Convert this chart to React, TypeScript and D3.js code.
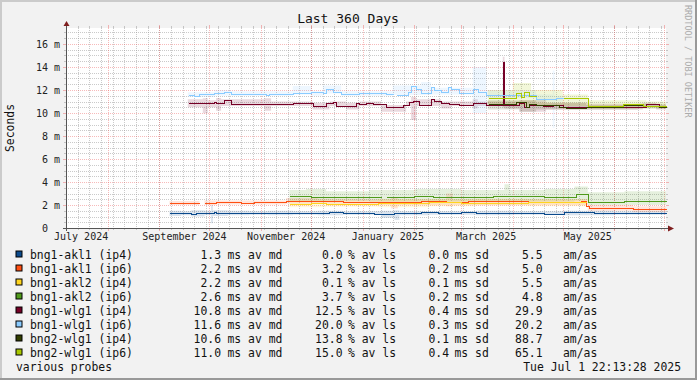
import React from "react";
import * as d3 from "d3";

// ---------- layout constants ----------
const W = 697;
const H = 380;
const X0 = 66;
const X1 = 666;
const YT = 28;
const YB = 228;
const Y_MAX = 200 / 11.5;
const START = new Date(2024, 6, 6, 22, 13, 28);
const END = new Date(2025, 6, 1, 22, 13, 28);
const FONT = "'DejaVu Sans Mono', monospace";

// ---------- legend data ----------
const seriesNames = [
  "bng1-akl1 (ip4)",
  "bng1-akl1 (ip6)",
  "bng1-akl2 (ip4)",
  "bng1-akl2 (ip6)",
  "bng1-wlg1 (ip4)",
  "bng1-wlg1 (ip6)",
  "bng2-wlg1 (ip4)",
  "bng2-wlg1 (ip6)",
];
const seriesColors = ["#0b4a8c", "#ff4f12", "#ffd51f", "#4f9a1b", "#750026", "#8acbff", "#333f00", "#a9c800"];
const avgMedian = [1.3, 2.2, 2.2, 2.6, 10.8, 11.6, 10.6, 11.0];
const avgLoss = [0.0, 3.2, 0.1, 3.7, 12.5, 20.0, 13.8, 15.0];
const avgSd = [0.0, 0.2, 0.1, 0.2, 0.4, 0.3, 0.1, 0.4];
const amAs = [5.5, 5.0, 5.5, 4.8, 29.9, 20.2, 88.7, 65.1];
const yTickValues = [0, 2, 4, 6, 8, 10, 12, 14, 16];

// ---------- median lines (ms), step changes ----------
const akl1Ip4: [string, number][] = [
  ["2024-09-07", 1.28], ["2024-09-20", 1.2], ["2024-09-23", 1.28], ["2024-10-04", 1.4], ["2024-10-05", 1.3],
  ["2024-10-20", 1.33], ["2024-10-28", 1.27], ["2024-11-10", 1.32], ["2024-11-25", 1.3], ["2024-12-12", 1.35],
  ["2024-12-20", 1.3], ["2025-01-08", 1.25], ["2025-01-20", 1.3], ["2025-02-05", 1.36], ["2025-02-15", 1.3],
  ["2025-03-01", 1.36], ["2025-03-10", 1.28], ["2025-03-25", 1.34], ["2025-04-10", 1.3], ["2025-04-20", 1.25],
  ["2025-05-02", 1.36], ["2025-05-20", 1.33], ["2025-06-10", 1.3],
];
const akl1Ip6: [string, number][] = [
  ["2024-09-07", 2.15], ["2024-09-25", NaN], ["2024-09-28", 2.15], ["2024-10-05", 2.22], ["2024-10-20", 2.2],
  ["2024-10-28", 2.25], ["2024-11-08", 2.22], ["2024-11-16", 2.38], ["2024-11-28", 2.33], ["2024-12-05", 2.38],
  ["2024-12-20", 2.3], ["2025-01-05", 2.25], ["2025-01-20", 2.22], ["2025-02-01", 2.3], ["2025-02-05", 2.35],
  ["2025-02-20", 2.3], ["2025-03-05", 2.32], ["2025-04-10", 2.3], ["2025-05-12", 2.32], ["2025-05-15", 1.92],
  ["2025-05-17", 1.72], ["2025-06-12", 1.65],
];
const akl2Ip4: [string, number][] = [
  ["2024-11-18", 2.1], ["2024-12-01", 2.15], ["2024-12-10", 2.05], ["2024-12-28", 2.12], ["2025-01-10", 2.18],
  ["2025-01-25", 2.15], ["2025-02-10", 2.22], ["2025-03-01", 2.2], ["2025-04-10", 2.22], ["2025-05-15", NaN],
];
const akl2Ip6: [string, number][] = [
  ["2024-11-18", 2.78], ["2024-12-01", 2.72], ["2024-12-20", 2.7], ["2025-01-12", NaN], ["2025-01-15", 2.72],
  ["2025-02-01", 2.75], ["2025-02-12", 2.7], ["2025-03-01", 2.72], ["2025-03-20", 2.75], ["2025-04-20", 2.72],
  ["2025-05-09", 2.93], ["2025-05-16", 2.3], ["2025-06-07", 2.37],
];
const wlg1Ip4: [string, number][] = [
  ["2024-09-18", 10.84], ["2024-10-04", 10.98], ["2024-10-05", 10.84], ["2024-10-10", 11.13], ["2024-10-14", 10.78],
  ["2024-11-20", 10.84], ["2024-12-02", 10.6], ["2024-12-10", 10.9], ["2024-12-14", 10.98], ["2024-12-16", 10.6],
  ["2024-12-28", 10.84], ["2024-12-30", 10.78], ["2025-01-03", 10.84], ["2025-01-07", 10.78], ["2025-01-15", 10.49],
  ["2025-01-25", 10.7], ["2025-01-29", 10.98], ["2025-01-31", 11.07], ["2025-02-04", 10.7], ["2025-02-11", 11.2],
  ["2025-02-13", 11.07], ["2025-02-17", 10.84], ["2025-02-22", 10.78], ["2025-02-28", 10.7], ["2025-03-08", 10.84],
  ["2025-03-10", 10.9], ["2025-03-16", 10.7], ["2025-03-26", 14.46], ["2025-03-27", 10.7], ["2025-04-05", 10.9],
  ["2025-04-08", 10.55], ["2025-04-11", 10.7], ["2025-04-19", 10.6], ["2025-04-25", 10.7], ["2025-05-01", 10.55],
  ["2025-05-16", 10.5], ["2025-06-20", 10.75], ["2025-06-28", 10.6],
];
const wlg1Ip6: [string, number][] = [
  ["2024-09-18", 11.56], ["2024-09-22", 11.5], ["2024-09-25", 11.65], ["2024-10-04", 11.77], ["2024-10-10", 11.86],
  ["2024-10-14", 11.65], ["2024-11-04", 11.56], ["2024-11-06", 11.65], ["2024-11-20", 11.71], ["2024-12-01", 11.86],
  ["2024-12-08", 11.77], ["2024-12-10", 12.06], ["2024-12-14", 11.86], ["2024-12-19", 11.65], ["2024-12-30", 11.71],
  ["2025-01-15", 11.65], ["2025-01-19", NaN], ["2025-01-21", 11.56], ["2025-01-28", 11.86], ["2025-01-30", 12.35],
  ["2025-02-02", 12.06], ["2025-02-05", 11.77], ["2025-02-11", 12.23], ["2025-02-13", 12.0], ["2025-02-17", 11.86],
  ["2025-02-21", 12.23], ["2025-02-23", 12.06], ["2025-02-28", 11.77], ["2025-03-08", 12.06], ["2025-03-11", 11.86],
  ["2025-03-16", 11.57], ["2025-04-15", 11.19], ["2025-04-27", 11.28], ["2025-05-01", NaN],
];
const bng2Ip4: [string, number][] = [
  ["2025-03-17", 10.78], ["2025-04-03", 10.98], ["2025-04-09", 10.55], ["2025-04-11", 10.78], ["2025-04-15", 10.7],
  ["2025-04-29", 10.49], ["2025-05-03", 10.4], ["2025-05-15", 10.49], ["2025-05-21", 10.55], ["2025-06-06", 10.7],
  ["2025-06-18", 10.62], ["2025-06-28", 10.55],
];
const bng2Ip6: [string, number][] = [
  ["2025-03-17", 11.33], ["2025-04-03", 11.77], ["2025-04-06", 11.4], ["2025-04-08", 11.86], ["2025-04-11", 11.45],
  ["2025-04-15", NaN], ["2025-05-01", 11.28], ["2025-05-16", 10.6], ["2025-06-06", 10.75], ["2025-06-18", 10.64],
  ["2025-06-28", 10.57],
];

// ---------- smoke bands (ms): [date, low, high] ----------
const akl1Ip4Smoke: [string, number, number][] = [
  ["2024-09-07", 1.05, 1.5], ["2024-09-14", 1.1, 1.45], ["2024-09-20", 1.0, 1.55], ["2024-09-28", 1.1, 1.5],
  ["2024-10-02", 0.41, 2.0], ["2024-10-03", 1.05, 1.55], ["2024-10-12", 1.1, 1.5], ["2024-10-25", 1.15, 1.45],
  ["2024-11-05", 1.1, 1.5], ["2024-11-20", 1.15, 1.45], ["2024-12-05", 1.1, 1.5], ["2024-12-20", 1.15, 1.45],
  ["2025-01-12", 0.9, 1.5], ["2025-01-20", 0.7, 1.55], ["2025-01-23", 1.1, 1.45], ["2025-02-10", 1.15, 1.45],
  ["2025-03-10", 1.1, 1.5], ["2025-04-01", 1.15, 1.45], ["2025-05-01", 1.1, 1.5], ["2025-06-01", 1.15, 1.45],
];
const akl1Ip6Smoke: [string, number, number][] = [
  ["2024-09-07", 2.0, 2.35], ["2024-09-25", NaN, NaN], ["2024-09-28", 2.0, 2.4], ["2024-10-05", 2.05, 2.4],
  ["2024-11-16", 2.1, 2.6], ["2024-12-05", 2.1, 2.55], ["2025-01-05", 2.0, 2.5], ["2025-01-18", 1.7, 2.6],
  ["2025-01-22", 2.0, 2.5], ["2025-02-20", 1.9, 3.0], ["2025-02-24", 2.0, 2.5], ["2025-04-10", 2.0, 2.5],
  ["2025-05-16", 1.5, 2.0], ["2025-06-12", 1.4, 1.9],
];
const akl2Ip4Smoke: [string, number, number][] = [
  ["2024-11-18", 1.8, 2.45], ["2024-12-10", 1.85, 2.4], ["2025-01-10", 1.8, 2.5], ["2025-02-10", 1.9, 2.5],
  ["2025-03-10", 1.95, 2.55], ["2025-04-10", 1.9, 2.5], ["2025-05-15", NaN, NaN],
];
const akl2Ip6Smoke: [string, number, number][] = [
  ["2024-11-18", 2.3, 3.3], ["2024-11-28", 2.3, 3.4], ["2024-12-10", 2.35, 3.2], ["2025-01-05", 2.3, 3.3],
  ["2025-02-01", 2.3, 3.4], ["2025-03-01", 2.3, 3.3], ["2025-03-27", 2.3, 3.8], ["2025-03-30", 2.3, 3.3],
  ["2025-04-20", 2.3, 3.4], ["2025-05-08", 2.4, 3.6], ["2025-05-16", 2.0, 3.1], ["2025-06-07", 2.0, 3.2],
];
const wlg1Ip4Smoke: [string, number, number][] = [
  ["2024-09-18", 10.5, 11.2], ["2024-09-27", 9.97, 11.28], ["2024-09-30", 10.5, 11.1], ["2024-10-05", 10.2, 11.3],
  ["2024-10-08", 10.6, 11.2], ["2024-11-03", 10.2, 11.28], ["2024-11-07", 10.6, 11.0], ["2024-12-02", 10.3, 10.9],
  ["2024-12-12", 10.6, 11.0], ["2024-12-22", 10.3, 10.9], ["2024-12-30", 10.6, 11.0], ["2025-01-12", 10.1, 10.7],
  ["2025-01-27", 10.6, 11.0], ["2025-01-30", 9.4, 11.4], ["2025-02-02", 10.6, 11.2], ["2025-02-17", 10.4, 11.0],
  ["2025-02-23", 10.6, 11.0], ["2025-03-08", 10.4, 11.2], ["2025-03-11", 10.6, 11.0], ["2025-03-26", 10.5, 14.9],
  ["2025-03-27", 10.4, 11.0], ["2025-04-05", 10.1, 11.1], ["2025-04-21", 10.3, 10.9], ["2025-05-16", 10.3, 10.8],
  ["2025-06-18", 10.5, 10.9], ["2025-06-26", 10.3, 10.7],
];
const wlg1Ip6Smoke: [string, number, number][] = [
  ["2024-09-18", 11.4, 11.8], ["2024-10-04", 11.5, 12.0], ["2024-10-14", 11.5, 11.9], ["2024-11-20", 11.6, 12.35],
  ["2024-12-01", 11.5, 11.9], ["2024-12-08", 11.7, 12.4], ["2024-12-19", 11.5, 11.9], ["2025-01-19", 11.56, 12.4],
  ["2025-02-05", 11.56, 12.7], ["2025-02-11", 11.6, 12.2], ["2025-03-08", 10.0, 14.0], ["2025-03-16", 11.3, 12.0],
  ["2025-04-15", 11.0, 11.6], ["2025-04-25", 8.7, 13.7], ["2025-04-26", 11.0, 11.5], ["2025-05-01", NaN, NaN],
];
const bng2Ip4Smoke: [string, number, number][] = [
  ["2025-03-17", 10.3, 11.1], ["2025-04-05", 10.1, 11.1], ["2025-04-15", 10.3, 10.9], ["2025-05-15", 10.3, 10.7],
  ["2025-06-15", 10.4, 10.8],
];
const bng2Ip6Smoke: [string, number, number][] = [
  ["2025-03-17", 10.6, 12.0], ["2025-04-01", 10.6, 12.6], ["2025-04-12", 10.6, 12.0], ["2025-05-01", 10.6, 11.6],
  ["2025-05-16", 10.4, 11.1], ["2025-06-20", 10.4, 11.0],
];

const medians = [akl1Ip4, akl1Ip6, akl2Ip4, akl2Ip6, wlg1Ip4, wlg1Ip6, bng2Ip4, bng2Ip6];
const smokes = [akl1Ip4Smoke, akl1Ip6Smoke, akl2Ip4Smoke, akl2Ip6Smoke, wlg1Ip4Smoke, wlg1Ip6Smoke, bng2Ip4Smoke, bng2Ip6Smoke];

const parseDay = d3.timeParse("%Y-%m-%d");

// close each step run so that the last value holds until the next time (or the end)
function closeSteps<T extends any[]>(rows: T[]): T[] {
  const out: T[] = [];
  rows.forEach((r, i) => {
    out.push(r);
    const defined = !isNaN(r[1]);
    const next = rows[i + 1];
    if (defined && next && isNaN(next[1])) {
      const c = r.slice() as T;
      c[0] = next[0];
      out.push(c);
    }
    if (defined && !next) {
      const c = r.slice() as T;
      c[0] = END;
      out.push(c);
    }
  });
  return out;
}

export default function App() {
  const x = d3.scaleTime().domain([START, END]).range([X0, X1]);
  const y = d3.scaleLinear().domain([0, Y_MAX]).range([YB, YT]);

  const lineGen = d3
    .line<[Date, number]>()
    .defined((d) => !isNaN(d[1]))
    .x((d) => Math.round(x(d[0])) + 0.5)
    .y((d) => Math.round(y(d[1])) + 0.5)
    .curve(d3.curveStepAfter);

  const areaGen = d3
    .area<[Date, number, number]>()
    .defined((d) => !isNaN(d[1]))
    .x((d) => x(d[0]))
    .y0((d) => y(d[1]))
    .y1((d) => y(d[2]))
    .curve(d3.curveStepAfter);

  const medData = medians.map((s) => closeSteps(s.map((r) => [parseDay(r[0]) as Date, r[1]] as [Date, number])));
  const smokeData = smokes.map((s) =>
    closeSteps(s.map((r) => [parseDay(r[0]) as Date, r[1], r[2]] as [Date, number, number]))
  );

  const hMinor = d3.range(0.5, Y_MAX, 0.5).filter((v) => Math.abs(v % 2) > 1e-9);
  const hMajor = d3.range(2, Y_MAX, 2);
  const vMinor = d3.timeSunday.range(START, END);
  const vMajor = d3.timeMonth.range(START, END);
  const labelMonths = d3
    .timeMonth.every(2)!
    .range(new Date(2024, 6, 1), END)
    .filter((d) => x(d3.timeDay.offset(d, 15)) < X1 - 20);
  const fmtMonth = d3.timeFormat("%B %Y");

  const px = (v: number) => Math.round(v) + 0.5;
  const minorColor = "rgba(150,150,150,0.5)";
  const majorColor = "rgba(235,90,90,0.42)";

  const legendBase = 258.5;
  const rowH = 14;

  return (
    <svg
      width={W}
      height={H}
      style={{ position: "absolute", left: 0, top: 0, display: "block" }}
      fontFamily={FONT}
    >
      <defs>
        <clipPath id="plotclip">
          <rect x={X0} y={YT} width={X1 - X0 + 1} height={YB - YT} />
        </clipPath>
      </defs>
      {/* background and 3d frame */}
      <rect x={0} y={0} width={W} height={H} fill="#F2F2F2" />
      <rect x={0} y={0} width={W} height={2} fill="#CBCBCB" />
      <rect x={0} y={0} width={2} height={H} fill="#CBCBCB" />
      <rect x={0} y={H - 2} width={W} height={2} fill="#999999" />
      <rect x={W - 2} y={0} width={2} height={H} fill="#999999" />

      {/* canvas */}
      <rect x={X0} y={YT} width={X1 - X0} height={YB - YT} fill="#FFFFFF" />

      {/* grid */}
      <g shapeRendering="crispEdges">
        {hMinor.map((v) => (
          <g key={"hm" + v}>
            <line x1={X0 - 2} x2={X0} y1={px(y(v))} y2={px(y(v))} stroke={minorColor} />
            <line x1={X1} x2={X1 + 2} y1={px(y(v))} y2={px(y(v))} stroke={minorColor} />
            <line x1={X0} x2={X1} y1={px(y(v))} y2={px(y(v))} stroke={minorColor} strokeDasharray="1,1" />
          </g>
        ))}
        {vMinor.map((d) => (
          <g key={"vm" + +d}>
            <line x1={px(x(d))} x2={px(x(d))} y1={YB} y2={YB + 2} stroke={minorColor} />
            <line x1={px(x(d))} x2={px(x(d))} y1={YT - 2} y2={YT} stroke={minorColor} />
            <line x1={px(x(d))} x2={px(x(d))} y1={YT} y2={YB} stroke={minorColor} strokeDasharray="1,1" />
          </g>
        ))}
        {hMajor.map((v) => (
          <g key={"hM" + v}>
            <line x1={X0 - 3} x2={X0} y1={px(y(v))} y2={px(y(v))} stroke={majorColor} />
            <line x1={X1} x2={X1 + 3} y1={px(y(v))} y2={px(y(v))} stroke={majorColor} />
            <line x1={X0} x2={X1} y1={px(y(v))} y2={px(y(v))} stroke={majorColor} strokeDasharray="1,1" />
          </g>
        ))}
        {vMajor.map((d) => (
          <g key={"vM" + +d}>
            <line x1={px(x(d))} x2={px(x(d))} y1={YB} y2={YB + 3} stroke={majorColor} />
            <line x1={px(x(d))} x2={px(x(d))} y1={YT - 3} y2={YT} stroke={majorColor} />
            <line x1={px(x(d))} x2={px(x(d))} y1={YT} y2={YB} stroke={majorColor} strokeDasharray="1,1" />
          </g>
        ))}
      </g>

      {/* smoke */}
      <g clipPath="url(#plotclip)">
        {smokeData.map((s, i) => (
          <path key={"s" + i} d={areaGen(s) || ""} fill={seriesColors[i]} fillOpacity={0.15} stroke="none" />
        ))}
      </g>

      {/* median lines */}
      <g clipPath="url(#plotclip)" shapeRendering="crispEdges">
        {medData.map((s, i) => (
          <path key={"l" + i} d={lineGen(s) || ""} fill="none" stroke={seriesColors[i]} strokeWidth={1} />
        ))}
      </g>

      {/* axes */}
      <g shapeRendering="crispEdges">
        <line x1={X0 + 0.5} x2={X0 + 0.5} y1={YB + 3} y2={YT - 4} stroke="#555555" />
        <line x1={X0 - 3} x2={X1 + 5} y1={YB + 0.5} y2={YB + 0.5} stroke="#555555" />
      </g>
      <path d={`M${X0 - 2.5},${YT - 2} L${X0 + 3.5},${YT - 2} L${X0 + 0.5},${YT - 7} Z`} fill="#7f1f1f" />
      <path d={`M${X1 + 2},${YB - 2.5} L${X1 + 2},${YB + 3.5} L${X1 + 8},${YB + 0.5} Z`} fill="#7f1f1f" />

      {/* y tick labels */}
      {yTickValues.map((v) => (
        <text
          key={"yt" + v}
          x={60}
          y={y(v) + 3.7}
          fontSize={10}
          textAnchor="end"
          fill="#222"
          style={{ whiteSpace: "pre" }}
        >
          {v === 0 ? "0  " : `${v} m`}
        </text>
      ))}

      {/* x labels */}
      {labelMonths.map((d) => (
        <text key={"xl" + +d} x={x(d3.timeDay.offset(d, 15))} y={240} fontSize={10} textAnchor="middle" fill="#222">
          {fmtMonth(d)}
        </text>
      ))}

      {/* title */}
      <text x={348} y={23} fontSize={13} textAnchor="middle" fill="#111">
        Last 360 Days
      </text>

      {/* unit */}
      <text transform={`translate(14,128) rotate(-90)`} fontSize={11.4} textAnchor="middle" fill="#111">
        Seconds
      </text>

      {/* watermark */}
      <text transform={`translate(685,5) rotate(90)`} fontSize={8.5} fill="#ababab">
        RRDTOOL / TOBI OETIKER
      </text>

      {/* legend */}
      <g fontSize={11.4} fill="#111" style={{ whiteSpace: "pre" }}>
        {seriesNames.map((n, i) => {
          const by = legendBase + i * rowH;
          return (
            <g key={"lg" + i}>
              <rect x={16} y={by - 7.5} width={6} height={6} fill={seriesColors[i]} stroke="#000" strokeWidth={1} />
              <text x={30} y={by}>{n}</text>
              <text x={221} y={by} textAnchor="end">{avgMedian[i].toFixed(1)}</text>
              <text x={227.5} y={by}>ms av md</text>
              <text x={342.5} y={by} textAnchor="end">{avgLoss[i].toFixed(1)}</text>
              <text x={348} y={by}>% av ls</text>
              <text x={449} y={by} textAnchor="end">{avgSd[i].toFixed(1)}</text>
              <text x={454.5} y={by}>ms sd</text>
              <text x={542.5} y={by} textAnchor="end">{amAs[i].toFixed(1)}</text>
              <text x={563} y={by}>am/as</text>
            </g>
          );
        })}
        <text x={16} y={370.5}>various probes</text>
        <text x={681} y={370.5} textAnchor="end">{"Tue Jul  1 22:13:28 2025"}</text>
      </g>
    </svg>
  );
}
